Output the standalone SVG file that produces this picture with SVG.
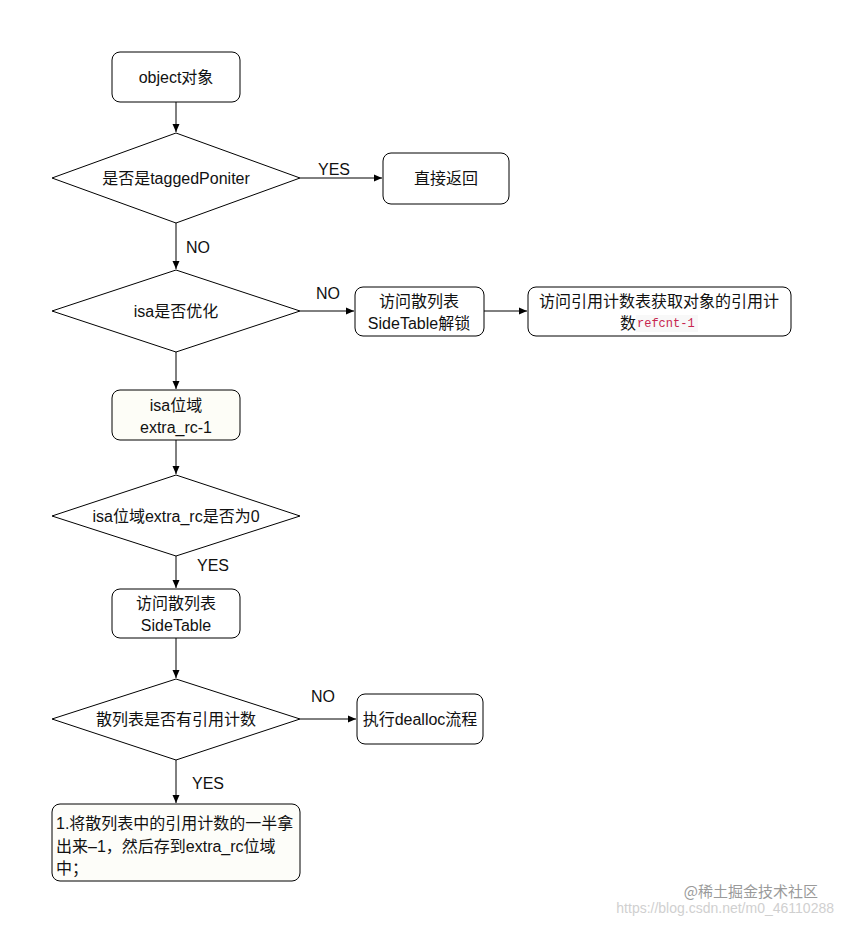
<svg xmlns="http://www.w3.org/2000/svg" width="842" height="932" viewBox="0 0 842 932">
<defs>
<marker id="arr" markerWidth="10" markerHeight="10" refX="9" refY="5" orient="auto" markerUnits="userSpaceOnUse">
<path d="M1,1.5 L9,5 L1,8.5 Z" fill="#000"/>
</marker>
<style>
.n{fill:#fff;stroke:#000;stroke-width:1}
.t{font-family:"Liberation Sans","Noto Sans CJK SC",sans-serif;font-size:16px;fill:#111;text-anchor:middle;dominant-baseline:central}
.l{font-family:"Liberation Sans","Noto Sans CJK SC",sans-serif;font-size:16px;fill:#111;dominant-baseline:central}
.c{fill:none;stroke:#000;stroke-width:1;marker-end:url(#arr)}
.code{font-family:"Liberation Mono","DejaVu Sans Mono",monospace;font-size:12px;fill:#c7254e}
</style>
</defs>
<rect width="842" height="932" fill="#fff"/>
<g id="connectors">
<path class="c" d="M176,102 V132"/>
<path class="c" d="M300,178 H382"/>
<path class="c" d="M176,223 V269"/>
<path class="c" d="M300,311 H354"/>
<path class="c" d="M484,311 H527"/>
<path class="c" d="M176,352 V389"/>
<path class="c" d="M176,440 V474"/>
<path class="c" d="M176,556 V588"/>
<path class="c" d="M176,638 V678"/>
<path class="c" d="M300,719 H356"/>
<path class="c" d="M176,760 V803"/>
<text class="l" x="318" y="169">YES</text>
<text class="l" x="186" y="247">NO</text>
<text class="l" x="316" y="293">NO</text>
<text class="l" x="197" y="565">YES</text>
<text class="l" x="311" y="696">NO</text>
<text class="l" x="192" y="783">YES</text>
</g>
<g id="n1"><rect class="n" x="112" y="52" width="128" height="50" rx="8"/><text class="t" x="176" y="77">object对象</text></g>
<g id="d1"><polygon class="n" points="176,133 300,178 176,223 52,178"/><text class="t" x="176" y="178">是否是taggedPoniter</text></g>
<g id="n2"><rect class="n" x="383" y="153" width="126" height="51" rx="8"/><text class="t" x="446" y="178">直接返回</text></g>
<g id="d2"><polygon class="n" points="176,270 300,311 176,352 52,311"/><text class="t" x="176" y="311">isa是否优化</text></g>
<g id="n3"><rect class="n" x="355" y="287" width="129" height="49" rx="8"/><text class="t" x="419" y="301">访问散列表</text><text class="t" x="419" y="323">SideTable解锁</text></g>
<g id="n4"><rect class="n" x="528" y="287" width="263" height="49" rx="8"/><text class="t" x="659" y="301">访问引用计数表获取对象的引用计</text><rect x="636" y="315" width="62" height="17" fill="#f8f8f8"/><text class="l" x="620" y="323">数</text><text class="code" x="637" y="324" dominant-baseline="central">refcnt-1</text></g>
<g id="n5"><rect class="n" x="112" y="390" width="128" height="50" rx="8" style="fill:#fdfdf7"/><text class="t" x="176" y="405">isa位域</text><text class="t" x="176" y="427">extra_rc-1</text></g>
<g id="d3"><polygon class="n" points="176,475 300,516 176,556 52,516"/><text class="t" x="176" y="516">isa位域extra_rc是否为0</text></g>
<g id="n6"><rect class="n" x="112" y="589" width="128" height="49" rx="8"/><text class="t" x="176" y="603">访问散列表</text><text class="t" x="176" y="625">SideTable</text></g>
<g id="d4"><polygon class="n" points="176,679 300,719 176,760 52,719"/><text class="t" x="176" y="719">散列表是否有引用计数</text></g>
<g id="n7"><rect class="n" x="357" y="694" width="126" height="50" rx="8"/><text class="t" x="420" y="719">执行dealloc流程</text></g>
<g id="n8"><rect class="n" x="52" y="804" width="248" height="77" rx="8" style="fill:#fdfdf9"/><text class="l" x="56" y="823">1.将散列表中的引用计数的一半拿</text><text class="l" x="56" y="846">出来–1，然后存到extra_rc位域</text><text class="l" x="56" y="868">中；</text></g>
<g id="watermark">
<text x="818" y="897" text-anchor="end" style="font-family:'Noto Sans CJK SC',sans-serif;font-size:15px;fill:#9a9a9a">@稀土掘金技术社区</text>
<text x="834" y="913" text-anchor="end" style="font-family:'Liberation Sans',sans-serif;font-size:14px;fill:#d0d0d0">https://blog.csdn.net/m0_46110288</text>
</g>
</svg>
